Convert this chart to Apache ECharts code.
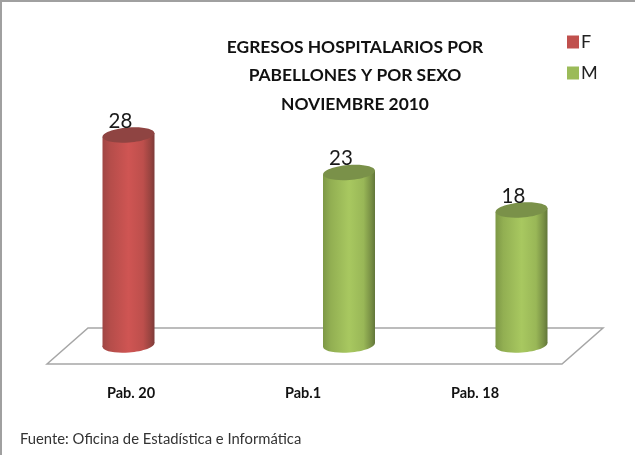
<!DOCTYPE html>
<html><head><meta charset="utf-8">
<style>html,body{margin:0;padding:0;background:#fff}#c{width:635px;height:455px}</style>
<script src="https://cdn.jsdelivr.net/npm/echarts@6/dist/echarts.min.js"></script>
</head><body><div id="c"></div>
<script>
const categories = ['Pab. 20', 'Pab.1', 'Pab. 18'];
const valuesF = [28, null, null];
const valuesM = [null, 23, 18];
const titleText = 'EGRESOS HOSPITALARIOS POR\nPABELLONES Y POR SEXO\nNOVIEMBRE 2010';
const sourceText = 'Fuente: Oficina de Estadística e Informática';

// cylinder drift from the category tick, in pixels (the source draws them off-centre)
const drift = [-2.5, 46, 46.5];
const RX = 26, RY = 7.5, TILT = 4.5 * Math.PI / 180, RISE = 2;

function grad(stops) {
  return { type: 'linear', x: 0, y: 0, x2: 1, y2: 0,
    colorStops: stops.map(([offset, color]) => ({ offset, color })) };
}
const palette = {
  F: { base: '#c0504d', cap: '#8f4442', body: [[0,'#a04644'],[0.15,'#b54d4a'],[0.5,'#cf5553'],[0.78,'#bd4f4c'],[0.93,'#96433f'],[1,'#7d3b39']] },
  M: { base: '#9bbb59', cap: '#7a9149', body: [[0,'#7d9846'],[0.15,'#92af52'],[0.5,'#a8c860'],[0.78,'#99b757'],[0.93,'#778e44'],[1,'#62763a']] }
};

function cylinder(key) {
  return function (params, api) {
    const v = api.value(1);
    if (v == null || isNaN(v)) return null;
    const i = api.value(0);
    const top = api.coord([i, v]);
    const bot = api.coord([i, 0]);
    const cx = top[0] + drift[i];
    const ty = top[1], by = bot[1];
    const fill = grad(palette[key].body);
    return {
      type: 'group',
      children: [
        { type: 'ellipse', shape: { cx: 0, cy: 0, rx: RX, ry: RY }, x: cx, y: by,
          rotation: TILT, style: { fill } },
        { type: 'polygon',
          shape: { points: [[cx - RX, ty + RISE], [cx + RX, ty - RISE], [cx + RX, by - RISE], [cx - RX, by + RISE]] },
          style: { fill } },
        { type: 'ellipse', shape: { cx: 0, cy: 0, rx: RX, ry: RY }, x: cx, y: ty,
          rotation: TILT, style: { fill: palette[key].cap } },
        { type: 'text', x: cx - 8, y: ty - 14,
          style: { text: String(v), fill: '#1a1a1a', font: '20.5px Lato', align: 'center', verticalAlign: 'middle' } }
      ]
    };
  };
}

const chart = echarts.init(document.getElementById('c'), null, { renderer: 'canvas' });
chart.setOption({
  animation: false,
  backgroundColor: '#fff',
  title: [
    { text: titleText, left: 350, top: 28, textAlign: 'center',
      textStyle: { fontFamily: 'Lato', fontWeight: 'bold', fontSize: 17.4, lineHeight: 28.5, color: '#111' } },
    { text: sourceText, left: 15, top: 427,
      textStyle: { fontFamily: 'Lato', fontWeight: 'normal', fontSize: 14.8, color: '#333' } }
  ],
  legend: {
    orient: 'vertical', left: 562, top: 28, itemGap: 13, itemWidth: 12, itemHeight: 13,
    icon: 'rect',
    textStyle: { fontFamily: 'Lato', fontSize: 18, color: '#222', padding: [0, 0, 0, -3] },
    data: [
      { name: 'F', itemStyle: { color: palette.F.base } },
      { name: 'M', itemStyle: { color: palette.M.base } }
    ]
  },
  grid: { left: 45, top: 45, width: 516, height: 300 },
  xAxis: {
    type: 'category', data: categories,
    axisLine: { show: false }, axisTick: { show: false },
    axisLabel: { margin: 41, fontFamily: 'Lato', fontWeight: 'bold', fontSize: 14.5, color: '#111' }
  },
  yAxis: { type: 'value', min: 0, max: 40, show: false, splitLine: { show: false } },
  graphic: [
    { type: 'polygon', z: 0, silent: true,
      shape: { points: [[47, 364], [88, 328], [603, 328], [562, 364]] },
      style: { fill: 'none', stroke: '#a6a6a6', lineWidth: 1.5 } },
    { type: 'polyline', z: 0, silent: true,
      shape: { points: [[1, 455], [1, 1], [635, 1]] },
      style: { fill: 'none', stroke: '#a0a0a0', lineWidth: 2 } }
  ],
  series: [
    { name: 'F', type: 'custom', itemStyle: { color: palette.F.base }, renderItem: cylinder('F'),
      encode: { x: 0, y: 1 }, data: valuesF.map((v, i) => [i, v]) },
    { name: 'M', type: 'custom', itemStyle: { color: palette.M.base }, renderItem: cylinder('M'),
      encode: { x: 0, y: 1 }, data: valuesM.map((v, i) => [i, v]) }
  ]
});
</script></body></html>
